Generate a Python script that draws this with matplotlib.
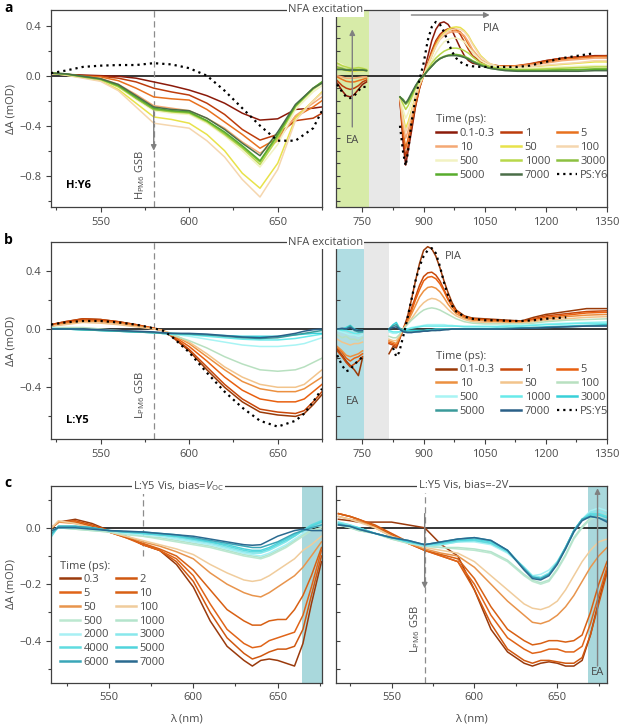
import numpy as np
import matplotlib
matplotlib.use('Agg')
import matplotlib.pyplot as plt
from matplotlib.ticker import MultipleLocator
from matplotlib.lines import Line2D

plt.rcParams['font.family'] = ['Open Sans', 'DejaVu Sans']
plt.rcParams['mathtext.fontset'] = 'custom'
plt.rcParams['mathtext.rm'] = 'Open Sans'
plt.rcParams['mathtext.it'] = 'Open Sans:italic'
plt.rcParams['font.size'] = 8

TXT = '#4a4a4a'
SPINE = '#404040'

# ---------------- panel a: H:Y6 ----------------
a_times = ['0.1-0.3', '1', '5', '10', '50', '100', '500', '1000', '3000', '5000', '7000']
a_colors = ['#8b1a0a', '#bc3c0c', '#e8711e', '#f4a874', '#e8e24a', '#f5d6ae',
            '#f2f2c2', '#b8d84a', '#8cc040', '#58ac2c', '#4a6e48']

a_wl_vis = [522, 530, 540, 550, 560, 570, 580, 590, 600, 610, 620, 630, 640, 650, 660, 670, 675]
a_vis = [
    [0.02, 0.01, 0.005, 0.0, -0.005, -0.02, -0.05, -0.08, -0.115, -0.16, -0.22, -0.30, -0.355, -0.345, -0.27, -0.26, -0.25],
    [0.02, 0.01, 0.0, -0.005, -0.02, -0.05, -0.10, -0.13, -0.155, -0.22, -0.31, -0.43, -0.515, -0.47, -0.36, -0.34, -0.30],
    [0.02, 0.01, -0.005, -0.01, -0.04, -0.10, -0.17, -0.185, -0.195, -0.27, -0.37, -0.47, -0.58, -0.50, -0.33, -0.25, -0.20],
    [0.02, 0.01, -0.01, -0.02, -0.07, -0.15, -0.24, -0.26, -0.28, -0.34, -0.42, -0.53, -0.62, -0.52, -0.32, -0.22, -0.17],
    [0.02, 0.005, -0.015, -0.04, -0.11, -0.22, -0.33, -0.35, -0.38, -0.47, -0.60, -0.78, -0.90, -0.70, -0.34, -0.20, -0.13],
    [0.02, 0.005, -0.02, -0.045, -0.12, -0.25, -0.38, -0.40, -0.42, -0.52, -0.65, -0.83, -0.97, -0.75, -0.36, -0.20, -0.14],
    [0.02, 0.01, -0.01, -0.03, -0.09, -0.19, -0.28, -0.30, -0.31, -0.38, -0.48, -0.60, -0.73, -0.55, -0.27, -0.13, -0.08],
    [0.02, 0.01, -0.01, -0.03, -0.09, -0.18, -0.27, -0.29, -0.30, -0.37, -0.47, -0.58, -0.71, -0.50, -0.25, -0.11, -0.06],
    [0.02, 0.015, -0.01, -0.03, -0.08, -0.18, -0.27, -0.285, -0.295, -0.36, -0.46, -0.57, -0.69, -0.48, -0.24, -0.10, -0.05],
    [0.02, 0.015, -0.005, -0.025, -0.08, -0.17, -0.26, -0.28, -0.29, -0.36, -0.45, -0.56, -0.68, -0.47, -0.24, -0.10, -0.05],
    [0.02, 0.015, -0.005, -0.025, -0.07, -0.16, -0.25, -0.27, -0.28, -0.34, -0.43, -0.54, -0.64, -0.45, -0.23, -0.10, -0.06],
]
a_ps_vis = [0.02, 0.04, 0.07, 0.08, 0.085, 0.085, 0.1, 0.09, 0.06, 0.0, -0.12, -0.26, -0.40, -0.52, -0.52, -0.42, -0.28]

a_wl_ea = [688, 700, 710, 720, 730, 740, 750, 760]
a_ea = [
    [-0.06, -0.12, -0.16, -0.17, -0.15, -0.11, -0.07, -0.05],
    [-0.04, -0.08, -0.10, -0.11, -0.10, -0.08, -0.05, -0.035],
    [-0.01, -0.03, -0.045, -0.05, -0.05, -0.04, -0.03, -0.02],
    [0.0, -0.01, -0.02, -0.02, -0.02, -0.015, -0.01, -0.01],
    [0.06, 0.05, 0.04, 0.035, 0.035, 0.04, 0.04, 0.04],
    [0.08, 0.06, 0.05, 0.045, 0.045, 0.05, 0.05, 0.05],
    [0.11, 0.09, 0.07, 0.06, 0.06, 0.06, 0.06, 0.05],
    [0.10, 0.08, 0.07, 0.06, 0.06, 0.065, 0.06, 0.05],
    [0.07, 0.06, 0.05, 0.05, 0.05, 0.05, 0.05, 0.045],
    [0.05, 0.05, 0.045, 0.04, 0.045, 0.045, 0.045, 0.04],
    [0.05, 0.05, 0.045, 0.045, 0.045, 0.045, 0.045, 0.04],
]
a_ps_ea = [-0.07, -0.13, -0.17, -0.18, -0.16, -0.12, -0.09, -0.09]

a_wl_nir = [842, 850, 856, 862, 870, 880, 890, 900, 910, 920, 930, 940, 950, 960, 970, 980, 990,
            1000, 1010, 1020, 1040, 1060, 1080, 1100, 1130, 1160, 1200, 1240, 1280, 1320, 1350]
a_nir = [
    [-0.2, -0.55, -0.715, -0.6, -0.45, -0.25, -0.1, 0.02, 0.15, 0.28, 0.37, 0.42, 0.43, 0.41, 0.36, 0.29, 0.22,
     0.16, 0.12, 0.10, 0.085, 0.08, 0.08, 0.075, 0.075, 0.09, 0.12, 0.14, 0.15, 0.16, 0.16],
    [-0.2, -0.5, -0.65, -0.56, -0.42, -0.24, -0.1, 0.0, 0.1, 0.2, 0.28, 0.33, 0.36, 0.375, 0.38, 0.37, 0.33,
     0.27, 0.21, 0.16, 0.11, 0.09, 0.08, 0.075, 0.08, 0.095, 0.12, 0.14, 0.15, 0.155, 0.16],
    [-0.19, -0.45, -0.58, -0.5, -0.38, -0.22, -0.09, 0.0, 0.09, 0.18, 0.26, 0.31, 0.34, 0.355, 0.365, 0.365, 0.35,
     0.31, 0.25, 0.19, 0.12, 0.09, 0.08, 0.075, 0.08, 0.09, 0.11, 0.13, 0.14, 0.15, 0.15],
    [-0.18, -0.4, -0.5, -0.44, -0.33, -0.19, -0.08, 0.0, 0.08, 0.16, 0.24, 0.29, 0.32, 0.34, 0.35, 0.35, 0.345,
     0.32, 0.27, 0.21, 0.13, 0.09, 0.075, 0.07, 0.075, 0.085, 0.10, 0.12, 0.13, 0.14, 0.14],
    [-0.17, -0.33, -0.42, -0.37, -0.28, -0.16, -0.07, 0.0, 0.08, 0.16, 0.24, 0.30, 0.34, 0.37, 0.385, 0.39, 0.385,
     0.36, 0.32, 0.26, 0.16, 0.10, 0.075, 0.065, 0.065, 0.07, 0.08, 0.09, 0.10, 0.11, 0.11],
    [-0.17, -0.36, -0.45, -0.40, -0.30, -0.17, -0.07, 0.0, 0.08, 0.16, 0.23, 0.29, 0.33, 0.355, 0.37, 0.375, 0.37,
     0.35, 0.31, 0.25, 0.15, 0.10, 0.075, 0.065, 0.065, 0.07, 0.085, 0.095, 0.105, 0.12, 0.12],
    [-0.17, -0.28, -0.34, -0.30, -0.22, -0.12, -0.05, 0.0, 0.06, 0.12, 0.18, 0.23, 0.27, 0.29, 0.30, 0.30, 0.29,
     0.27, 0.23, 0.19, 0.12, 0.085, 0.07, 0.06, 0.06, 0.06, 0.065, 0.07, 0.075, 0.08, 0.08],
    [-0.17, -0.23, -0.27, -0.24, -0.18, -0.10, -0.04, 0.0, 0.05, 0.10, 0.14, 0.17, 0.195, 0.21, 0.22, 0.22, 0.215,
     0.20, 0.18, 0.15, 0.10, 0.075, 0.06, 0.055, 0.05, 0.05, 0.055, 0.06, 0.065, 0.07, 0.07],
    [-0.17, -0.2, -0.23, -0.21, -0.16, -0.09, -0.035, 0.0, 0.04, 0.08, 0.115, 0.14, 0.155, 0.165, 0.17, 0.17, 0.165,
     0.155, 0.14, 0.12, 0.09, 0.065, 0.055, 0.05, 0.045, 0.045, 0.045, 0.05, 0.05, 0.055, 0.055],
    [-0.17, -0.19, -0.22, -0.20, -0.15, -0.085, -0.03, 0.0, 0.04, 0.075, 0.11, 0.135, 0.15, 0.16, 0.165, 0.165, 0.16,
     0.15, 0.135, 0.115, 0.085, 0.06, 0.05, 0.045, 0.04, 0.04, 0.04, 0.045, 0.045, 0.05, 0.05],
    [-0.17, -0.20, -0.22, -0.19, -0.14, -0.08, -0.03, 0.0, 0.04, 0.075, 0.11, 0.135, 0.15, 0.16, 0.16, 0.16, 0.155,
     0.145, 0.13, 0.11, 0.08, 0.06, 0.05, 0.04, 0.035, 0.035, 0.035, 0.035, 0.035, 0.04, 0.04],
]
a_ps_nir = [-0.4, -0.62, -0.72, -0.6, -0.38, -0.18, -0.03, 0.1, 0.28, 0.39, 0.43, 0.41, 0.35, 0.27, 0.19, 0.14, 0.11,
            0.09, 0.08, 0.075, 0.07, 0.07, 0.07, 0.07, 0.07, 0.08, 0.11, 0.14, 0.16, 0.18, np.nan]

# ---------------- panel b: L:Y5 ----------------
b_times = ['0.1-0.3', '1', '5', '10', '50', '100', '500', '1000', '3000', '5000', '7000']
b_colors = ['#9a3a08', '#c8480a', '#e86010', '#ec9040', '#f2c48c', '#b8e0c0',
            '#a8f4f4', '#68eaea', '#38d0d8', '#3a9a9a', '#2a6088']

b_wl_vis = [522, 530, 540, 550, 560, 570, 580, 585, 590, 600, 610, 620, 630, 640, 650, 660, 665, 670, 675]
b_vis = [
    [0.03, 0.05, 0.07, 0.065, 0.05, 0.03, 0.005, -0.01, -0.05, -0.15, -0.28, -0.40, -0.50, -0.57, -0.59, -0.60, -0.58, -0.52, -0.45],
    [0.03, 0.05, 0.07, 0.065, 0.05, 0.03, 0.005, -0.01, -0.045, -0.14, -0.26, -0.38, -0.48, -0.55, -0.57, -0.58, -0.56, -0.50, -0.43],
    [0.02, 0.04, 0.06, 0.055, 0.045, 0.025, 0.005, -0.01, -0.04, -0.12, -0.22, -0.33, -0.42, -0.48, -0.50, -0.50, -0.48, -0.43, -0.38],
    [0.02, 0.035, 0.055, 0.05, 0.04, 0.02, 0.0, -0.01, -0.035, -0.10, -0.19, -0.28, -0.36, -0.41, -0.43, -0.43, -0.41, -0.37, -0.33],
    [0.02, 0.03, 0.045, 0.04, 0.03, 0.015, 0.0, -0.01, -0.03, -0.09, -0.17, -0.26, -0.33, -0.38, -0.40, -0.40, -0.38, -0.33, -0.28],
    [0.01, 0.01, 0.01, 0.0, -0.01, -0.02, -0.025, -0.03, -0.04, -0.08, -0.13, -0.19, -0.24, -0.28, -0.29, -0.28, -0.26, -0.23, -0.20],
    [0.01, 0.0, -0.005, -0.01, -0.015, -0.02, -0.025, -0.03, -0.035, -0.05, -0.07, -0.09, -0.11, -0.12, -0.12, -0.11, -0.10, -0.08, -0.06],
    [0.0, 0.0, -0.005, -0.01, -0.015, -0.02, -0.025, -0.03, -0.035, -0.04, -0.05, -0.06, -0.07, -0.075, -0.075, -0.065, -0.055, -0.045, -0.035],
    [0.0, 0.0, -0.005, -0.01, -0.015, -0.02, -0.025, -0.03, -0.03, -0.035, -0.04, -0.045, -0.05, -0.05, -0.05, -0.04, -0.035, -0.03, -0.03],
    [0.0, 0.0, -0.005, -0.01, -0.015, -0.02, -0.025, -0.03, -0.03, -0.035, -0.04, -0.05, -0.06, -0.065, -0.06, -0.04, -0.03, -0.02, -0.01],
    [0.0, 0.0, 0.0, -0.005, -0.01, -0.015, -0.02, -0.025, -0.03, -0.03, -0.035, -0.045, -0.055, -0.06, -0.05, -0.03, -0.015, -0.005, 0.0],
]
b_ps_vis = [0.03, 0.045, 0.055, 0.055, 0.045, 0.03, 0.005, -0.01, -0.05, -0.16, -0.30, -0.43, -0.54, -0.63, -0.67, -0.63, -0.58, -0.50, -0.41]

b_wl_ea = [688, 700, 710, 720, 730, 740, 750]
b_ea = [
    [-0.14, -0.18, -0.22, -0.25, -0.28, -0.32, -0.20],
    [-0.15, -0.19, -0.23, -0.26, -0.24, -0.22, -0.19],
    [-0.13, -0.16, -0.20, -0.22, -0.20, -0.19, -0.17],
    [-0.12, -0.15, -0.18, -0.19, -0.18, -0.17, -0.15],
    [-0.07, -0.09, -0.10, -0.11, -0.10, -0.10, -0.09],
    [-0.04, -0.06, -0.05, -0.07, -0.07, -0.08, -0.06],
    [-0.01, -0.02, -0.03, -0.04, -0.04, -0.05, -0.04],
    [0.0, -0.01, -0.01, -0.02, -0.03, -0.03, -0.02],
    [0.0, 0.0, 0.01, 0.025, 0.0, -0.01, -0.01],
    [0.0, 0.0, 0.0, 0.02, -0.01, -0.02, -0.02],
    [0.0, 0.005, 0.0, 0.01, -0.005, -0.01, -0.01],
]
b_ps_ea = [-0.18, -0.25, -0.29, -0.28, -0.24, -0.22, -0.19]

b_wl_nir = [815, 825, 833, 840, 850, 860, 870, 880, 890, 900, 910, 920, 930, 940, 950, 960, 970, 980,
            1000, 1020, 1050, 1080, 1110, 1140, 1170, 1200, 1250, 1300, 1350]
b_nir = [
    [-0.17, -0.12, -0.13, -0.08, 0.0, 0.08, 0.2, 0.33, 0.45, 0.54, 0.565, 0.55, 0.5, 0.42, 0.33, 0.25, 0.18, 0.13,
     0.09, 0.075, 0.07, 0.065, 0.06, 0.055, 0.08, 0.1, 0.12, 0.14, 0.14],
    [-0.1, -0.11, -0.12, -0.07, 0.0, 0.06, 0.14, 0.22, 0.3, 0.36, 0.385, 0.39, 0.37, 0.33, 0.27, 0.21, 0.16, 0.12,
     0.085, 0.07, 0.065, 0.06, 0.055, 0.05, 0.07, 0.09, 0.105, 0.12, 0.125],
    [-0.09, -0.1, -0.11, -0.065, 0.0, 0.055, 0.12, 0.2, 0.27, 0.33, 0.355, 0.36, 0.345, 0.31, 0.26, 0.2, 0.155, 0.12,
     0.085, 0.07, 0.06, 0.055, 0.05, 0.05, 0.065, 0.08, 0.095, 0.11, 0.115],
    [-0.08, -0.09, -0.1, -0.06, 0.0, 0.045, 0.1, 0.16, 0.22, 0.26, 0.285, 0.29, 0.28, 0.255, 0.215, 0.17, 0.135, 0.105,
     0.075, 0.06, 0.055, 0.05, 0.045, 0.045, 0.055, 0.07, 0.085, 0.095, 0.10],
    [-0.07, -0.08, -0.08, -0.05, 0.0, 0.035, 0.07, 0.11, 0.15, 0.18, 0.2, 0.21, 0.205, 0.19, 0.165, 0.135, 0.11, 0.09,
     0.065, 0.05, 0.045, 0.04, 0.04, 0.04, 0.05, 0.06, 0.07, 0.08, 0.085],
    [-0.05, -0.06, -0.06, -0.04, 0.0, 0.03, 0.06, 0.085, 0.11, 0.13, 0.14, 0.145, 0.14, 0.13, 0.115, 0.1, 0.085, 0.07,
     0.05, 0.04, 0.035, 0.035, 0.035, 0.035, 0.04, 0.05, 0.06, 0.065, 0.07],
    [-0.02, -0.03, -0.03, -0.02, -0.01, 0.0, 0.01, 0.015, 0.02, 0.025, 0.03, 0.03, 0.03, 0.03, 0.03, 0.025, 0.025, 0.02,
     0.02, 0.02, 0.02, 0.02, 0.025, 0.025, 0.03, 0.035, 0.04, 0.045, 0.05],
    [-0.01, -0.02, -0.02, -0.02, -0.01, 0.0, 0.005, 0.01, 0.015, 0.02, 0.02, 0.02, 0.02, 0.02, 0.02, 0.02, 0.02, 0.02,
     0.015, 0.015, 0.015, 0.015, 0.02, 0.02, 0.025, 0.03, 0.035, 0.04, 0.04],
    [0.0, 0.03, 0.045, 0.01, -0.01, -0.01, -0.01, -0.01, -0.01, -0.01, -0.005, -0.005, 0.0, 0.0, 0.0, 0.0, 0.0, 0.0,
     0.0, 0.0, 0.0, 0.005, 0.005, 0.01, 0.01, 0.015, 0.02, 0.025, 0.03],
    [0.0, 0.02, 0.03, 0.005, -0.015, -0.02, -0.02, -0.02, -0.015, -0.015, -0.01, -0.01, -0.01, -0.005, -0.005, 0.0, 0.0, 0.0,
     0.0, 0.0, 0.0, 0.0, 0.005, 0.005, 0.01, 0.01, 0.015, 0.02, 0.025],
    [0.0, 0.01, 0.015, 0.0, -0.02, -0.025, -0.025, -0.02, -0.02, -0.015, -0.015, -0.01, -0.01, -0.01, -0.005, -0.005, 0.0, 0.0,
     0.0, 0.0, 0.0, 0.0, 0.0, 0.005, 0.005, 0.01, 0.015, 0.02, 0.02],
]
b_ps_nir = [np.nan, -0.13, -0.19, -0.16, -0.05, 0.07, 0.2, 0.33, 0.43, 0.5, 0.54, 0.555, 0.52, 0.43, 0.32, 0.23, 0.16, 0.12,
            0.085, 0.07, 0.06, 0.06, 0.055, 0.055, 0.06, 0.07, 0.08, np.nan, np.nan]

# ---------------- panel c: L:Y5 Vis under bias ----------------
c_times = ['0.3', '2', '5', '10', '50', '100', '500', '1000', '2000', '3000', '4000', '5000', '6000', '7000']
c_colors = ['#9a3a0c', '#d05810', '#e06418', '#d86014', '#e8944c', '#f0cc9c', '#bce8d0',
            '#b4e4cc', '#a8f0f4', '#88e8ec', '#60dce0', '#50d4dc', '#3aa6b8', '#2a6a90']

c_wl_voc = [516, 520, 530, 540, 550, 560, 570, 580, 590, 600, 610, 620, 630, 635, 640, 645, 650, 655, 660, 665, 670, 676]
c_voc = [
    [0.0, 0.02, 0.03, 0.015, -0.01, -0.03, -0.06, -0.08, -0.13, -0.21, -0.33, -0.42, -0.47, -0.49, -0.47, -0.465, -0.47, -0.48, -0.49, -0.41, -0.27, -0.12],
    [0.0, 0.02, 0.025, 0.01, -0.01, -0.03, -0.06, -0.08, -0.12, -0.19, -0.30, -0.39, -0.445, -0.465, -0.455, -0.44, -0.43, -0.43, -0.42, -0.36, -0.24, -0.10],
    [0.0, 0.02, 0.02, 0.005, -0.015, -0.035, -0.06, -0.08, -0.11, -0.17, -0.27, -0.36, -0.41, -0.425, -0.42, -0.40, -0.39, -0.38, -0.37, -0.31, -0.21, -0.08],
    [0.0, 0.02, 0.02, 0.005, -0.015, -0.035, -0.055, -0.075, -0.10, -0.15, -0.22, -0.29, -0.33, -0.345, -0.345, -0.33, -0.325, -0.325, -0.29, -0.24, -0.17, -0.07],
    [0.0, 0.02, 0.015, 0.0, -0.015, -0.03, -0.05, -0.065, -0.085, -0.11, -0.16, -0.20, -0.23, -0.24, -0.245, -0.23, -0.21, -0.19, -0.17, -0.14, -0.10, -0.05],
    [0.0, 0.025, 0.015, 0.0, -0.015, -0.03, -0.045, -0.06, -0.075, -0.095, -0.13, -0.16, -0.185, -0.19, -0.185, -0.17, -0.15, -0.13, -0.11, -0.08, -0.06, -0.03],
    [-0.01, 0.0, -0.005, -0.01, -0.015, -0.025, -0.03, -0.04, -0.05, -0.06, -0.07, -0.085, -0.10, -0.105, -0.11, -0.10, -0.085, -0.07, -0.05, -0.03, -0.01, 0.0],
    [-0.01, 0.0, -0.005, -0.01, -0.015, -0.02, -0.03, -0.035, -0.045, -0.055, -0.065, -0.08, -0.095, -0.10, -0.105, -0.095, -0.08, -0.065, -0.045, -0.025, -0.01, 0.0],
    [-0.02, 0.0, 0.0, -0.005, -0.01, -0.02, -0.025, -0.03, -0.04, -0.05, -0.06, -0.075, -0.09, -0.095, -0.10, -0.09, -0.075, -0.06, -0.04, -0.02, 0.0, 0.01],
    [-0.02, 0.0, 0.0, -0.005, -0.01, -0.015, -0.02, -0.025, -0.035, -0.045, -0.055, -0.07, -0.085, -0.09, -0.09, -0.08, -0.065, -0.05, -0.03, -0.01, 0.01, 0.02],
    [-0.03, 0.005, 0.005, 0.0, -0.01, -0.015, -0.02, -0.025, -0.03, -0.04, -0.05, -0.065, -0.08, -0.085, -0.085, -0.075, -0.06, -0.045, -0.03, -0.01, 0.01, 0.025],
    [-0.02, 0.005, 0.005, 0.0, -0.01, -0.015, -0.02, -0.025, -0.03, -0.04, -0.05, -0.06, -0.075, -0.08, -0.08, -0.07, -0.055, -0.04, -0.025, -0.01, 0.005, 0.02],
    [-0.02, 0.005, 0.005, 0.0, -0.01, -0.015, -0.015, -0.02, -0.025, -0.035, -0.045, -0.055, -0.065, -0.07, -0.07, -0.06, -0.05, -0.035, -0.02, -0.01, 0.0, 0.01],
    [-0.01, 0.0, 0.0, -0.005, -0.01, -0.012, -0.015, -0.02, -0.025, -0.03, -0.04, -0.05, -0.06, -0.062, -0.06, -0.045, -0.03, -0.02, -0.01, -0.005, -0.01, -0.01],
]

c_wl_rev = [518, 525, 530, 540, 550, 560, 570, 580, 590, 600, 610, 620, 630, 635, 640, 645, 650, 655, 660, 665, 670, 675, 680]
c_rev = [
    [0.03, 0.025, 0.02, 0.02, 0.02, 0.01, 0.0, -0.06, -0.10, -0.22, -0.36, -0.44, -0.48, -0.49, -0.48, -0.475, -0.48, -0.49, -0.49, -0.47, -0.38, -0.26, -0.15],
    [0.05, 0.04, 0.03, 0.01, -0.02, -0.05, -0.08, -0.10, -0.12, -0.22, -0.34, -0.43, -0.47, -0.48, -0.47, -0.47, -0.475, -0.48, -0.48, -0.46, -0.38, -0.27, -0.16],
    [0.05, 0.04, 0.03, 0.005, -0.025, -0.055, -0.08, -0.10, -0.12, -0.20, -0.31, -0.39, -0.43, -0.445, -0.44, -0.43, -0.43, -0.44, -0.44, -0.42, -0.34, -0.24, -0.14],
    [0.05, 0.04, 0.03, 0.005, -0.025, -0.055, -0.08, -0.095, -0.11, -0.18, -0.28, -0.36, -0.40, -0.415, -0.41, -0.40, -0.40, -0.405, -0.40, -0.38, -0.30, -0.20, -0.12],
    [0.04, 0.03, 0.025, 0.0, -0.03, -0.055, -0.075, -0.09, -0.10, -0.14, -0.20, -0.26, -0.31, -0.335, -0.34, -0.33, -0.31, -0.28, -0.24, -0.19, -0.14, -0.10, -0.07],
    [0.04, 0.03, 0.02, 0.0, -0.03, -0.05, -0.07, -0.08, -0.09, -0.12, -0.17, -0.22, -0.27, -0.285, -0.29, -0.28, -0.26, -0.22, -0.17, -0.12, -0.08, -0.05, -0.04],
    [0.01, 0.0, -0.01, -0.02, -0.04, -0.055, -0.065, -0.07, -0.075, -0.08, -0.09, -0.12, -0.17, -0.19, -0.20, -0.19, -0.15, -0.10, -0.04, 0.0, 0.03, 0.04, 0.04],
    [0.01, 0.0, -0.01, -0.02, -0.04, -0.055, -0.065, -0.07, -0.07, -0.075, -0.085, -0.115, -0.165, -0.185, -0.195, -0.185, -0.145, -0.095, -0.035, 0.005, 0.035, 0.045, 0.045],
    [0.02, 0.01, 0.0, -0.02, -0.035, -0.05, -0.065, -0.06, -0.05, -0.05, -0.06, -0.09, -0.14, -0.17, -0.165, -0.15, -0.12, -0.07, -0.01, 0.03, 0.06, 0.07, 0.06],
    [0.02, 0.01, 0.0, -0.02, -0.035, -0.05, -0.065, -0.06, -0.05, -0.045, -0.055, -0.085, -0.14, -0.17, -0.175, -0.16, -0.12, -0.07, -0.01, 0.03, 0.055, 0.06, 0.05],
    [0.015, 0.005, 0.0, -0.02, -0.035, -0.05, -0.06, -0.055, -0.045, -0.045, -0.055, -0.085, -0.145, -0.175, -0.18, -0.165, -0.125, -0.075, -0.015, 0.03, 0.05, 0.05, 0.04],
    [0.015, 0.005, 0.0, -0.02, -0.035, -0.05, -0.06, -0.055, -0.045, -0.04, -0.05, -0.08, -0.145, -0.175, -0.18, -0.165, -0.125, -0.07, -0.01, 0.03, 0.045, 0.045, 0.035],
    [0.01, 0.005, -0.005, -0.02, -0.035, -0.045, -0.06, -0.05, -0.04, -0.035, -0.045, -0.08, -0.145, -0.175, -0.18, -0.165, -0.125, -0.07, -0.01, 0.03, 0.04, 0.035, 0.025],
    [0.01, 0.005, -0.005, -0.02, -0.035, -0.045, -0.06, -0.05, -0.04, -0.035, -0.045, -0.08, -0.15, -0.18, -0.185, -0.17, -0.13, -0.075, -0.015, 0.025, 0.04, 0.035, 0.02],
]

LW = 1.1
PS_STYLE = dict(color='black', lw=1.6, ls=(0, (1, 1.8)))


def style(ax, xlim, ylim, xmaj, xmin, ymaj, ymin, labels=True):
    ax.set_xlim(*xlim)
    ax.set_ylim(*ylim)
    for s in ax.spines.values():
        s.set_color(SPINE)
        s.set_linewidth(0.9)
    ax.xaxis.set_major_locator(MultipleLocator(xmaj))
    ax.xaxis.set_minor_locator(MultipleLocator(xmin))
    ax.yaxis.set_major_locator(MultipleLocator(ymaj))
    ax.yaxis.set_minor_locator(MultipleLocator(ymin))
    ax.tick_params(which='both', colors=SPINE, labelcolor=TXT, labelsize=8, width=0.8)
    ax.tick_params(which='major', length=3.5)
    ax.tick_params(which='minor', length=2)
    if labels:
        ax.set_ylabel('ΔA (mOD)', color=TXT, fontsize=8, labelpad=2)
        ax.yaxis.set_major_formatter(lambda v, p: f'{v:.1f}'.replace('-', '\u2212'))
    else:
        ax.tick_params(axis='y', which='both', direction='in', labelleft=False, length=3)
    ax.axhline(0, color='black', lw=1.1, zorder=1.5)


def lines(ax, wl, series, colors, z=2):
    for vals, col in zip(series, colors):
        ax.plot(wl, vals, color=col, lw=LW, zorder=z)


def legend(ax, times, colors, ncol, anchor, ps_label=None):
    hs = [Line2D([], [], color=c, lw=1.8) for c in colors]
    labs = list(times)
    if ps_label:
        hs.append(Line2D([], [], **PS_STYLE))
        labs.append(ps_label)
    nrow = int(np.ceil(len(hs) / ncol))
    order = [r * ncol + c for c in range(ncol) for r in range(nrow) if r * ncol + c < len(hs)]
    leg = ax.legend([hs[i] for i in order], [labs[i] for i in order], ncol=ncol, title='Time (ps):',
                    loc='upper left', bbox_to_anchor=anchor, frameon=False, fontsize=8,
                    title_fontsize=8, handlelength=1.8, handletextpad=0.3, columnspacing=0.6,
                    labelspacing=0.25, borderpad=0, borderaxespad=0, alignment='left')
    for t in leg.get_texts():
        t.set_color(TXT)
    leg.get_title().set_color(TXT)


def vdash(ax, x, y0=None):
    lo, hi = ax.get_ylim()
    ax.plot([x, x], [lo if y0 is None else y0, hi], color='#8c8c8c', lw=0.9, ls=(0, (5, 3)), zorder=1.8)


def garrow(ax, p0, p1):
    ax.annotate('', xy=p1, xytext=p0,
                arrowprops=dict(arrowstyle='-|>', color='#808080', lw=1.0, mutation_scale=8,
                                shrinkA=0, shrinkB=0), zorder=4)


fig = plt.figure(figsize=(6.2, 7.28), dpi=100)
W, H = 620.0, 728.0


def box(x0, x1, top, bot):
    return [x0 / W, 1 - bot / H, (x1 - x0) / W, (bot - top) / H]


axaL = fig.add_axes(box(51, 322, 10, 207))
axaR = fig.add_axes(box(336, 607, 10, 207))
axbL = fig.add_axes(box(51, 322, 242.3, 439.3))
axbR = fig.add_axes(box(336, 607, 242.3, 439.3))
axcL = fig.add_axes(box(51, 322, 485.7, 682.7))
axcR = fig.add_axes(box(336, 607, 485.7, 682.7))

# ---- a ----
style(axaL, (522, 675), (-1.05, 0.525), 50, 25, 0.4, 0.2)
style(axaR, (685, 1350), (-1.05, 0.525), 150, 75, 0.1, 0.1, labels=False)
vdash(axaL, 580)
garrow(axaL, (580, -0.28), (580, -0.6))
lines(axaL, a_wl_vis, a_vis, a_colors)
axaL.plot(a_wl_vis, a_ps_vis, zorder=3, **PS_STYLE)
axaL.text(530.5, -0.875, 'H:Y6', fontsize=8, fontweight='bold', va='center', ha='left')
axaL.text(572.5, -0.79, r'H$_{\mathregular{PM6}}$ GSB', rotation=90, ha='center', va='center',
          fontsize=8, color=TXT)
axaR.axvspan(685, 766, color='#d7eba8', lw=0, zorder=0)
axaR.axvspan(766, 841, color='#e8e8e8', lw=0, zorder=0)
lines(axaR, a_wl_ea, a_ea, a_colors)
axaR.plot(a_wl_ea, a_ps_ea, zorder=3, **PS_STYLE)
lines(axaR, a_wl_nir, a_nir, a_colors)
axaR.plot(a_wl_nir, a_ps_nir, zorder=3, **PS_STYLE)
garrow(axaR, (725, -0.41), (725, 0.37))
garrow(axaR, (870, 0.485), (1062, 0.485))
axaR.text(726, -0.515, 'EA', ha='center', va='center', color=TXT, fontsize=8)
axaR.text(1067, 0.374, 'PIA', ha='center', va='center', color=TXT, fontsize=8)
legend(axaR, a_times, a_colors, 3, (0.37, 0.47), 'PS:Y6')

# ---- b ----
style(axbL, (522, 675), (-0.757, 0.595), 50, 25, 0.4, 0.2)
style(axbR, (685, 1350), (-0.757, 0.595), 150, 75, 0.2, 0.2, labels=False)
vdash(axbL, 580)
lines(axbL, b_wl_vis, b_vis, b_colors)
axbL.plot(b_wl_vis, b_ps_vis, zorder=3, **PS_STYLE)
axbL.text(530.5, -0.63, 'L:Y5', fontsize=8, fontweight='bold', va='center', ha='left')
axbL.text(572.5, -0.45, r'L$_{\mathregular{PM6}}$ GSB', rotation=90, ha='center', va='center',
          fontsize=8, color=TXT)
axbR.axvspan(685, 754, color='#b0dde3', lw=0, zorder=0)
axbR.axvspan(754, 814, color='#e8e8e8', lw=0, zorder=0)
lines(axbR, b_wl_ea, b_ea, b_colors)
axbR.plot(b_wl_ea, b_ps_ea, zorder=3, **PS_STYLE)
lines(axbR, b_wl_nir, b_nir, b_colors)
axbR.plot(b_wl_nir, b_ps_nir, zorder=3, **PS_STYLE)
axbR.text(725, -0.5, 'EA', ha='center', va='center', color=TXT, fontsize=8)
axbR.text(974, 0.5, 'PIA', ha='center', va='center', color=TXT, fontsize=8)
legend(axbR, b_times, b_colors, 3, (0.37, 0.45), 'PS:Y5')

# ---- c ----
style(axcL, (515.6, 676.3), (-0.549, 0.149), 50, 25, 0.2, 0.1)
style(axcR, (516.5, 680), (-0.549, 0.149), 50, 25, 0.1, 0.1, labels=False)
vdash(axcL, 570, y0=-0.1)
vdash(axcR, 570)
axcL.axvspan(664.4, 677, color='#a9d8dc', lw=0, zorder=0)
axcR.axvspan(668.4, 681, color='#a9d8dc', lw=0, zorder=0)
lines(axcL, c_wl_voc, c_voc, c_colors)
lines(axcR, c_wl_rev, c_rev, c_colors)
garrow(axcR, (570, 0.05), (570, -0.215))
garrow(axcR, (674.3, -0.49), (674.3, 0.14))
axcR.text(674.3, -0.513, 'EA', ha='center', va='center', color=TXT, fontsize=8,
          bbox=dict(fc='#a9d8dc', ec='none', pad=0.5))
axcR.text(564, -0.36, r'L$_{\mathregular{PM6}}$ GSB', rotation=90, ha='center', va='center',
          fontsize=8, color=TXT)
for ax in (axcL, axcR):
    ax.set_xlabel('λ (nm)', color=TXT, fontsize=8, labelpad=7)
legend(axcL, c_times, c_colors, 2, (0.035, 0.62))

# header strips
wb = dict(fc='white', ec='none', pad=1.0)
fig.text(325.5 / W, 1 - 10 / H, 'NFA excitation', ha='center', va='center', color=TXT, fontsize=8, bbox=wb)
fig.text(325.5 / W, 1 - 242.3 / H, 'NFA excitation', ha='center', va='center', color=TXT, fontsize=8, bbox=wb)
axcL.text(0.47, 1.0, r'L:Y5 Vis, bias=$V_{\mathregular{OC}}$', transform=axcL.transAxes,
          ha='center', va='center', color=TXT, fontsize=8, bbox=wb)
axcR.text(0.47, 1.0, 'L:Y5 Vis, bias=-2V', transform=axcR.transAxes,
          ha='center', va='center', color=TXT, fontsize=8, bbox=wb)

for lab, y in (('a', 8), ('b', 240), ('c', 483)):
    fig.text(4 / W, 1 - y / H, lab, fontsize=10, fontweight='bold', va='center', ha='left')

fig.savefig('out.png', dpi=100)
